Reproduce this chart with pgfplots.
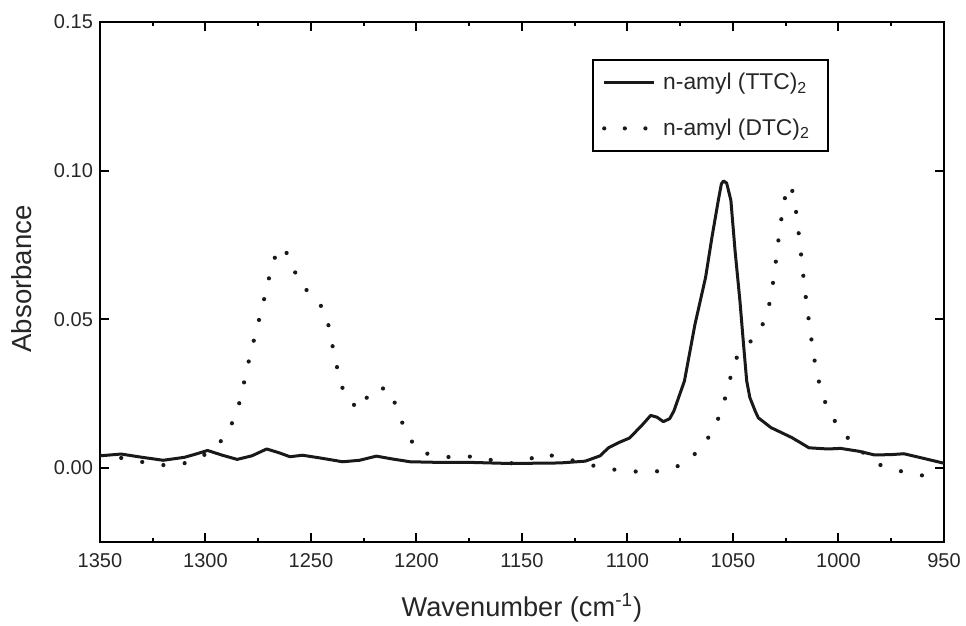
\documentclass[border=0pt]{standalone}
\usepackage{fontspec}
\setmainfont{Liberation Sans}
\usepackage{pgfplots}
\usepackage{pgfplotstable}
\pgfplotsset{compat=1.18}
\pgfplotsset{
  solidleg/.style={legend image code/.code={\path[draw=none,fill=none] (0pt,0pt) -- (31pt,0pt);\draw[##1] (3.5pt,0pt) -- (28.5pt,0pt);}},
  dotleg/.style={legend image code/.code={\path[draw=none,fill=none] (0pt,0pt) -- (31pt,0pt);\draw[##1, dash pattern=on 0pt off 10.3pt] (3.5pt,0pt) -- (24.5pt,0pt);}},
}
\pgfplotstableread{
x y
1350 0.0040
1340 0.0046
1330 0.0035
1320 0.0025
1310 0.0035
1305 0.0045
1299 0.0058
1292 0.0042
1285 0.0028
1278 0.0040
1271 0.0063
1265 0.0050
1260 0.0037
1254 0.0042
1245 0.0032
1235 0.0020
1227 0.0025
1219 0.0039
1212 0.0030
1203 0.0020
1190 0.0018
1175 0.0018
1160 0.0015
1145 0.0015
1132 0.0016
1120 0.0022
1113 0.0040
1109 0.0067
1104 0.0085
1099 0.0100
1093 0.0144
1089 0.0176
1086 0.0170
1083 0.0155
1080 0.0165
1078 0.0191
1073 0.0292
1068 0.0483
1063 0.0640
1060 0.0774
1057 0.0898
1055.5 0.0955
1054.5 0.0965
1053 0.0958
1051 0.0900
1049 0.0729
1046.7 0.0561
1045 0.0415
1043.5 0.0292
1042 0.0236
1039.5 0.0191
1038 0.0168
1032 0.0135
1022 0.0101
1014 0.0067
1005 0.0063
999 0.0065
990 0.0055
983 0.0043
975 0.0044
969 0.0047
960 0.0032
950 0.0015
}\ttc
\pgfplotstableread{
x y
1350 0.0042
1339 0.0032
1329 0.0018
1319 0.0008
1310 0.0015
1300 0.0045
1291 0.0100
1286 0.0170
1283 0.0241
1281 0.0313
1278.6 0.0385
1276.1 0.0457
1273.6 0.0526
1271.2 0.0598
1269 0.0666
1265.5 0.0742
1262 0.0728
1259.5 0.0698
1256 0.0627
1249.3 0.0577
1243 0.0526
1241 0.0453
1239 0.0382
1236.8 0.0310
1233.8 0.0238
1227 0.0195
1221 0.0266
1213 0.0267
1209 0.0195
1205.3 0.0124
1199 0.0052
1185 0.0036
1170 0.0038
1160 0.0015
1150 0.0015
1141 0.0048
1131 0.0034
1121 0.0015
1112 0.0000
1102 -0.0011
1092 -0.0014
1083 -0.0011
1073 0.0013
1064 0.0074
1058 0.0146
1054.4 0.0217
1051.7 0.0288
1049.4 0.0360
1043 0.0415
1037.3 0.0458
1033.4 0.0528
1031.5 0.0599
1030.1 0.0668
1029 0.0737
1027.7 0.0807
1026.3 0.0875
1024.3 0.0946
1022.5 0.0950
1020.8 0.0898
1019.5 0.0829
1018.4 0.0760
1017.3 0.0690
1016.3 0.0621
1015.1 0.0551
1013.8 0.0481
1012.4 0.0410
1010.8 0.0337
1008.5 0.0266
1005 0.0194
998.7 0.0123
990 0.0060
981 0.0011
971 -0.0011
961 -0.0025
951 -0.0039
}\dtc
\begin{document}
\begin{tikzpicture}
\begin{axis}[
  scale only axis, width=422pt, height=260pt,
  x dir=reverse, xmin=950, xmax=1350, ymin=-0.025, ymax=0.15,
  xtick={950,1000,...,1350}, minor x tick num=1,
  ytick={0,0.05,0.1,0.15},
  tick align=inside, major tick length=4.5pt, minor tick length=2.2pt,
  axis line style={line width=1.4pt},
  every tick/.style={line width=1pt, black},
  /pgf/number format/assume math mode=true,
  tick label style={font=\fontsize{10}{12}\selectfont, text=black!85},
  xticklabel style={/pgf/number format/set thousands separator={}, yshift=-2pt},
  yticklabel style={/pgf/number format/.cd, fixed, fixed zerofill, precision=2},
  xlabel={Wavenumber (cm\textsuperscript{-1})},
  ylabel={Absorbance},
  xlabel style={font=\fontsize{13.6}{15}\selectfont, text=black!85, at={(axis description cs:0.5,-0.144)}, anchor=base},
  ylabel style={font=\fontsize{13.8}{15}\selectfont, text=black!85, at={(axis description cs:-0.0924,0.506)}, anchor=center},
  legend style={at={(axis description cs:0.583,0.929)}, anchor=north west, draw=black, line width=1.2pt,
    font=\fontsize{11.4}{13}\selectfont, inner xsep=2pt, inner ysep=4.5pt, row sep=9pt, text=black!85},
  legend cell align=left,
]
\addplot[black!90, line width=1.5pt, line join=round, solidleg] table {\ttc};
\addlegendentry{n-amyl (TTC)\textsubscript{2}\kern5pt}
\addplot[black!90, line width=2.1pt, line cap=round, dash pattern=on 0pt off 10.7pt, dotleg] table {\dtc};
\addlegendentry{n-amyl (DTC)\textsubscript{2}\kern5pt}
\end{axis}
\pgfresetboundingbox
\path (-50pt,-42pt) rectangle (433pt,271pt);
\end{tikzpicture}
\end{document}
